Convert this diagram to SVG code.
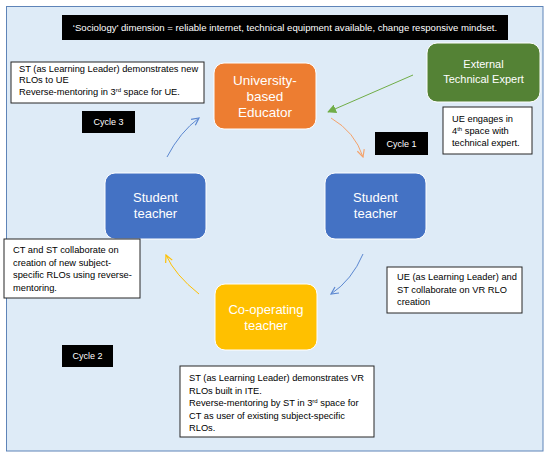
<svg xmlns="http://www.w3.org/2000/svg" width="550" height="457" viewBox="0 0 550 457">
<style>
text{font-family:"Liberation Sans",Arial,sans-serif}
.node{stroke:#ffffff;stroke-width:1}
.nt{fill:#ffffff;font-size:13px;text-anchor:middle}
.box{fill:#ffffff;stroke:#262626;stroke-width:1}
.bt{fill:#000000;font-size:9.3px}
.blk{fill:#000000}
.ct{fill:#ffffff;font-size:9px;text-anchor:middle}
.conn{fill:none;stroke-width:1}
</style>
<defs>
<marker id="hg" viewBox="0 0 10 10" refX="9" refY="5" markerWidth="9" markerHeight="9" orient="auto" markerUnits="userSpaceOnUse"><path d="M0,0 L10,5 L0,10 z" fill="#70AD47"/></marker>
<marker id="ho" viewBox="0 0 10 10" refX="9" refY="5" markerWidth="9" markerHeight="9" orient="auto" markerUnits="userSpaceOnUse"><path d="M1,1 L9,5 L1,9" fill="none" stroke="#F4A26B" stroke-width="1.3"/></marker>
<marker id="hb" viewBox="0 0 10 10" refX="9" refY="5" markerWidth="9" markerHeight="9" orient="auto" markerUnits="userSpaceOnUse"><path d="M1,1 L9,5 L1,9" fill="none" stroke="#5B87D0" stroke-width="1.3"/></marker>
<marker id="hy" viewBox="0 0 10 10" refX="9" refY="5" markerWidth="9" markerHeight="9" orient="auto" markerUnits="userSpaceOnUse"><path d="M1,1 L9,5 L1,9" fill="none" stroke="#FFC000" stroke-width="1.3"/></marker>
</defs>
<rect x="6.5" y="6.5" width="536.5" height="444.5" fill="#DEEBF7" stroke="#5E84B8" stroke-width="1"/>

<g id="banner">
<rect x="62" y="15" width="446" height="25" class="blk"/>
<text x="285" y="31" fill="#ffffff" font-size="9.6" text-anchor="middle">‘Sociology’ dimension = reliable internet,  technical equipment available, change responsive  mindset.</text>
</g>

<g id="connectors">
<line x1="413" y1="75" x2="328" y2="112" class="conn" stroke="#70AD47" marker-end="url(#hg)"/>
<path d="M331,118 Q355,132 363,157" class="conn" stroke="#F4A26B" marker-end="url(#ho)"/>
<path d="M363,254 Q352,280 331,294" class="conn" stroke="#5B87D0" marker-end="url(#hb)"/>
<path d="M199,294 Q175,275 166,255" class="conn" stroke="#FFC000" marker-end="url(#hy)"/>
<path d="M167,157 Q180,132 199,118" class="conn" stroke="#5B87D0" marker-end="url(#hb)"/>
</g>

<g id="note-cycle3">
<rect x="11" y="62" width="193" height="41" class="box"/>
<text class="bt" x="19" y="71.5">ST (as Learning Leader) demonstrates new</text>
<text class="bt" x="19" y="83">RLOs to UE</text>
<text class="bt" x="19" y="94.5">Reverse-mentoring in 3<tspan font-size="6" dy="-3">rd</tspan><tspan dy="3"> space for UE.</tspan></text>
</g>

<g id="label-cycle3">
<rect x="82" y="111" width="53" height="22" class="blk"/>
<text class="ct" x="108.5" y="125">Cycle 3</text>
</g>

<g id="university-educator">
<rect x="214" y="63" width="102" height="66" rx="10" fill="#ED7D31" class="node"/>
<text class="nt" x="265" y="84.5" style="font-size:13.5px">University-</text>
<text class="nt" x="265" y="100.5" style="font-size:13.5px">based</text>
<text class="nt" x="265" y="116.5" style="font-size:13.5px">Educator</text>
</g>

<g id="external-expert">
<rect x="427" y="43" width="113" height="59" rx="10" fill="#548235" class="node"/>
<text class="nt" x="483.5" y="68" style="font-size:11px">External</text>
<text class="nt" x="483.5" y="83" style="font-size:11px">Technical Expert</text>
</g>

<g id="note-expert">
<rect x="443" y="107" width="89" height="47" class="box"/>
<text class="bt" x="452" y="122">UE engages in</text>
<text class="bt" x="452" y="134">4<tspan font-size="6" dy="-3">th</tspan><tspan dy="3"> space with</tspan></text>
<text class="bt" x="452" y="146">technical expert.</text>
</g>

<g id="label-cycle1">
<rect x="375" y="132" width="53" height="23" class="blk"/>
<text class="ct" x="401.5" y="146.5">Cycle 1</text>
</g>

<g id="student-teacher-right">
<rect x="325" y="173" width="101" height="66" rx="10" fill="#4472C4" class="node"/>
<text class="nt" x="375.5" y="201.5">Student</text>
<text class="nt" x="375.5" y="217.5">teacher</text>
</g>

<g id="student-teacher-left">
<rect x="105" y="173" width="101" height="66" rx="10" fill="#4472C4" class="node"/>
<text class="nt" x="155.5" y="201.5">Student</text>
<text class="nt" x="155.5" y="217.5">teacher</text>
</g>

<g id="note-ct-st">
<rect x="4" y="239" width="136" height="59" class="box"/>
<text class="bt" x="13" y="253">CT and ST collaborate on</text>
<text class="bt" x="13" y="265.5">creation of new subject-</text>
<text class="bt" x="13" y="278">specific RLOs using reverse-</text>
<text class="bt" x="13" y="290.5">mentoring.</text>
</g>

<g id="note-ue-st">
<rect x="387" y="267" width="135" height="46" class="box"/>
<text class="bt" x="397" y="280">UE (as Learning Leader) and</text>
<text class="bt" x="397" y="293">ST collaborate on VR RLO</text>
<text class="bt" x="397" y="305">creation</text>
</g>

<g id="cooperating-teacher">
<rect x="215" y="284" width="102" height="66" rx="10" fill="#FFC000" class="node"/>
<text class="nt" x="266" y="313.5">Co-operating</text>
<text class="nt" x="266" y="329.5">teacher</text>
</g>

<g id="label-cycle2">
<rect x="62" y="345" width="51" height="22" class="blk"/>
<text class="ct" x="87.5" y="359">Cycle 2</text>
</g>

<g id="note-cycle2">
<rect x="180" y="366" width="194" height="71" class="box"/>
<text class="bt" x="189" y="381">ST (as Learning Leader) demonstrates VR</text>
<text class="bt" x="189" y="393.5">RLOs built in ITE.</text>
<text class="bt" x="189" y="406">Reverse-mentoring by ST in 3<tspan font-size="6" dy="-3">rd</tspan><tspan dy="3"> space for</tspan></text>
<text class="bt" x="189" y="418.5">CT as user of existing subject-specific</text>
<text class="bt" x="189" y="431">RLOs.</text>
</g>
</svg>
